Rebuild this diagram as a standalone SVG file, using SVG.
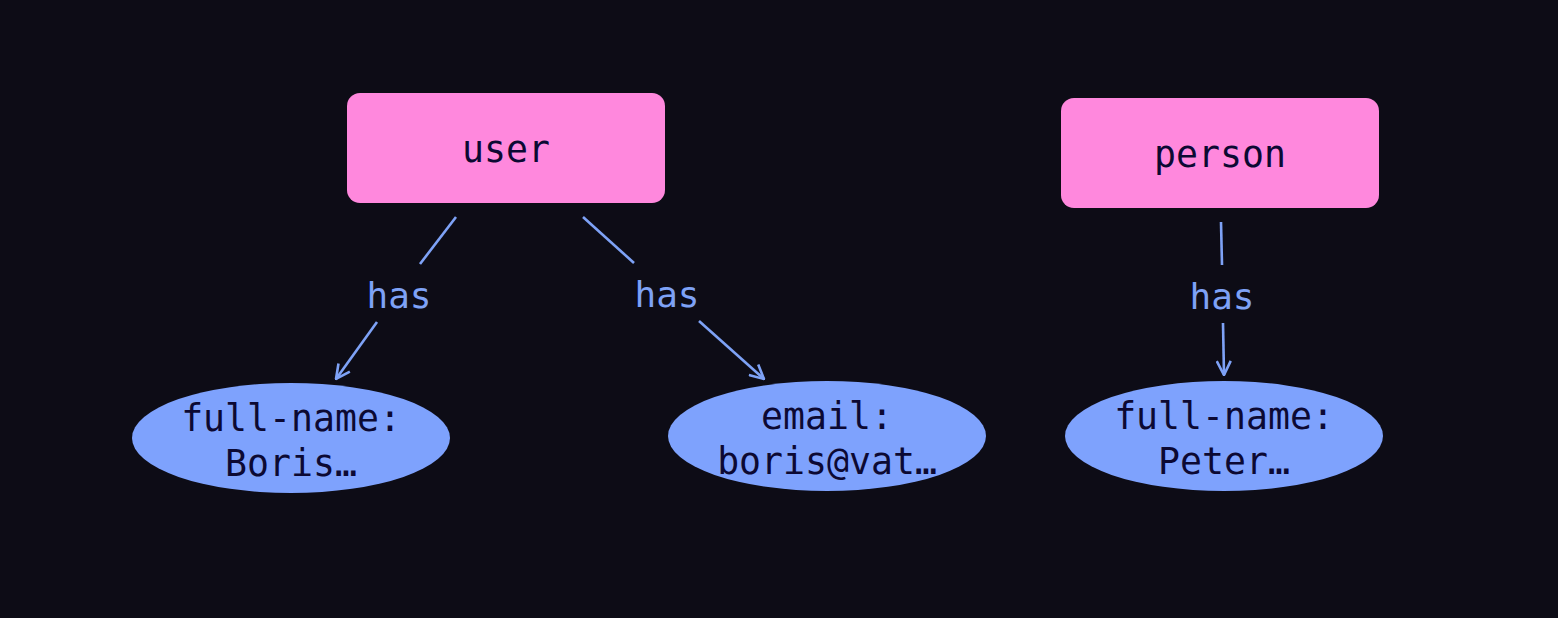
<svg xmlns="http://www.w3.org/2000/svg" width="1558" height="618" viewBox="0 0 1558 618">
<style>
.bg{fill:#0d0c16}
.ent rect{fill:#ff88dd}
.attr ellipse{fill:#7ea2fd}
.lbl{font-family:"DejaVu Sans Mono","Liberation Mono",monospace;font-size:36.5px;fill:#0c0933;text-anchor:middle}
.edge{stroke:#7ea2f6;stroke-width:2.6;fill:none}
.elbl{font-family:"DejaVu Sans Mono","Liberation Mono",monospace;font-size:36px;fill:#7ea2f6;text-anchor:middle}
</style>
<defs>
<marker id="arr" viewBox="0 0 16 16" refX="15" refY="8" markerWidth="16" markerHeight="16" markerUnits="userSpaceOnUse" orient="auto">
<path d="M1,1 L15,8 L1,15" fill="none" stroke="#7ea2f6" stroke-width="2.6"/>
</marker>
</defs>
<rect class="bg" x="0" y="0" width="1558" height="618"/>
<g id="connectors">
<g id="e1">
<line class="edge" x1="456" y1="217" x2="420" y2="264"/>
<text class="elbl" x="399" y="308">has</text>
<line class="edge" x1="377" y1="322" x2="336" y2="379" marker-end="url(#arr)"/>
</g>
<g id="e2">
<line class="edge" x1="583" y1="217" x2="634" y2="263"/>
<text class="elbl" x="667" y="307">has</text>
<line class="edge" x1="699" y1="321" x2="764" y2="379" marker-end="url(#arr)"/>
</g>
<g id="e3">
<line class="edge" x1="1221" y1="222" x2="1222" y2="265"/>
<text class="elbl" x="1222" y="309">has</text>
<line class="edge" x1="1223" y1="323" x2="1224" y2="375" marker-end="url(#arr)"/>
</g>
</g>
<g id="user" class="ent">
<rect x="347" y="93" width="318" height="110" rx="13"/>
<text class="lbl" x="506" y="162">user</text>
</g>
<g id="person" class="ent">
<rect x="1061" y="98" width="318" height="110" rx="13"/>
<text class="lbl" x="1220" y="167">person</text>
</g>
<g id="fullname1" class="attr">
<ellipse cx="291" cy="438" rx="159" ry="55"/>
<text class="lbl" x="291" y="431">full-name:</text>
<text class="lbl" x="291" y="476">Boris…</text>
</g>
<g id="email" class="attr">
<ellipse cx="827" cy="436" rx="159" ry="55"/>
<text class="lbl" x="827" y="429">email:</text>
<text class="lbl" x="827" y="474">boris@vat…</text>
</g>
<g id="fullname2" class="attr">
<ellipse cx="1224" cy="436" rx="159" ry="55"/>
<text class="lbl" x="1224" y="429">full-name:</text>
<text class="lbl" x="1224" y="474">Peter…</text>
</g>
</svg>
